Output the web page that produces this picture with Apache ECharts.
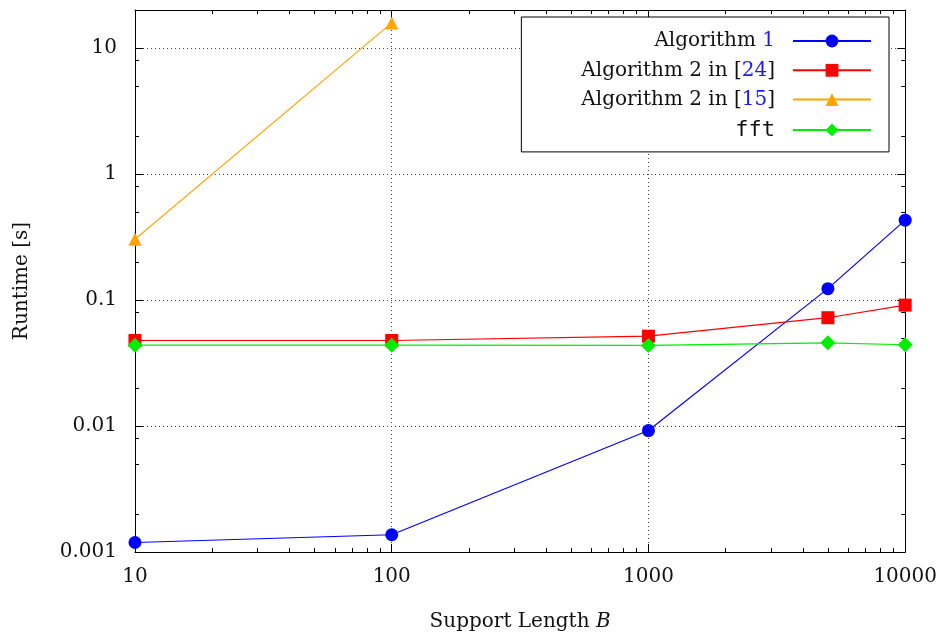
<!DOCTYPE html>
<html>
<head>
<meta charset="utf-8">
<script src="https://cdn.jsdelivr.net/npm/echarts@6/dist/echarts.min.js"></script>
<style>html,body{margin:0;padding:0;background:#fff}#c{width:940px;height:640px}</style>
</head>
<body>
<div id="c"></div>
<script>
// ---- data ----
var supportLengths = [10, 100, 1000, 5000, 10000];
var algo1 = [0.00119, 0.00137, 0.0092, 0.123, 0.43];
var algo2in24 = [0.0477, 0.0477, 0.0516, 0.0723, 0.091];
var algo2in15Lengths = [10, 100];
var algo2in15 = [0.303, 15.8];
var fftValues = [0.0438, 0.0438, 0.0436, 0.0457, 0.0441];

var seriesNames = ['Algorithm 1', 'Algorithm 2 in [24]', 'Algorithm 2 in [15]', 'fft'];
var legendLabels = {
  'Algorithm 1': 'Algorithm {c|1}',
  'Algorithm 2 in [24]': 'Algorithm 2 in [{c|24}]',
  'Algorithm 2 in [15]': 'Algorithm 2 in [{c|15}]',
  'fft': '{m|fft}'
};
var xMajorTicks = [10, 100, 1000, 10000];
var xMinorTicks = [20,30,40,50,60,70,80,90,200,300,400,500,600,700,800,900,2000,3000,4000,5000,6000,7000,8000,9000];
var yMajorTicks = [0.001, 0.01, 0.1, 1, 10];
var yMinorTicks = [0.002,0.005,0.008,0.02,0.05,0.08,0.2,0.5,0.8,2,5,8];

function pairs(xs, ys) { return xs.map(function (x, i) { return [x, ys[i]]; }); }

var FONT = 'DejaVu Serif';
var xRange = {min: 10, max: 10000};
var yRange = {min: 0.001, max: 20};

function fmt(v) { return String(v); }

function xAx(pos, major, labels) {
  return {
    type: 'log', logBase: 10, min: xRange.min, max: xRange.max, position: pos,
    axisLine: {show: major, lineStyle: {color: '#000', width: 1}},
    axisTick: {show: true, inside: true, length: major ? 8 : 4, customValues: major ? xMajorTicks : xMinorTicks, lineStyle: {color: '#000'}},
    axisLabel: {show: labels, customValues: xMajorTicks, fontFamily: FONT, fontSize: 20, color: '#111', margin: 15, formatter: fmt},
    splitLine: {show: labels, lineStyle: {color: '#444', type: [1, 3], width: 1}},
    minorTick: {show: false}
  };
}
function yAx(pos, major, labels) {
  return {
    type: 'log', logBase: 10, min: yRange.min, max: yRange.max, position: pos,
    axisLine: {show: major, lineStyle: {color: '#000', width: 1}},
    axisTick: {show: true, inside: true, length: major ? 8 : 4, customValues: major ? yMajorTicks : yMinorTicks, lineStyle: {color: '#000'}},
    axisLabel: {show: labels, customValues: yMajorTicks, fontFamily: FONT, fontSize: 20, color: '#111', margin: 18, formatter: fmt},
    splitLine: {show: labels, lineStyle: {color: '#444', type: [1, 3], width: 1}},
    minorTick: {show: false}
  };
}

var xAxes = [xAx('bottom', true, true), xAx('bottom', false, false), xAx('top', true, false), xAx('top', false, false)];
xAxes[0].name = 'Support Length {i|B}';
xAxes[0].nameLocation = 'middle';
xAxes[0].nameGap = 60;
xAxes[0].nameTextStyle = {fontFamily: FONT, fontSize: 20, color: '#111', rich: {i: {fontFamily: FONT, fontStyle: 'italic', fontSize: 20, color: '#111'}}};
var yAxes = [yAx('left', true, true), yAx('left', false, false), yAx('right', true, false), yAx('right', false, false)];
yAxes[0].name = 'Runtime [s]';
yAxes[0].nameLocation = 'middle';
yAxes[0].nameGap = 103;
yAxes[0].nameTextStyle = {fontFamily: FONT, fontSize: 20, color: '#111'};

var colors = ['#0000ff', '#ff0000', '#ffa500', '#00ee00'];
var symbols = ['circle', 'rect', 'triangle', 'diamond'];
var sizes = [13, 13, 13, 15];
var datas = [pairs(supportLengths, algo1), pairs(supportLengths, algo2in24), pairs(algo2in15Lengths, algo2in15), pairs(supportLengths, fftValues)];

var series = seriesNames.map(function (n, i) {
  return {
    name: n, type: 'line', data: datas[i], xAxisIndex: 0, yAxisIndex: 0,
    symbol: symbols[i], symbolSize: sizes[i], showAllSymbol: true,
    lineStyle: {color: colors[i], width: 1.2},
    itemStyle: {color: colors[i]},
    emphasis: {disabled: true},
    z: 3 + i
  };
});

var chart = echarts.init(document.getElementById('c'), null, {renderer: 'canvas'});
chart.setOption({
  animation: false,
  backgroundColor: '#fff',
  grid: {left: 135, right: 33, top: 10, bottom: 88, containLabel: false},
  xAxis: xAxes,
  yAxis: yAxes,
  legend: {
    orient: 'vertical', align: 'right', right: 51, top: 17,
    padding: [14, 17, 11, 60],
    itemWidth: 78, itemHeight: 16, itemGap: 9.3,
    backgroundColor: '#fff', borderColor: '#000', borderWidth: 1, borderRadius: 0,
    selectedMode: false,
    data: seriesNames,
    formatter: function (n) { return legendLabels[n]; },
    textStyle: {
      fontFamily: FONT, fontSize: 20, color: '#111', padding: [0, 13, 0, 0],
      rich: {
        c: {fontFamily: FONT, fontSize: 20, color: '#1a1aff'},
        m: {fontFamily: 'DejaVu Sans Mono', fontSize: 22, color: '#111'}
      }
    }
  },
  series: series
});
</script>
</body>
</html>
